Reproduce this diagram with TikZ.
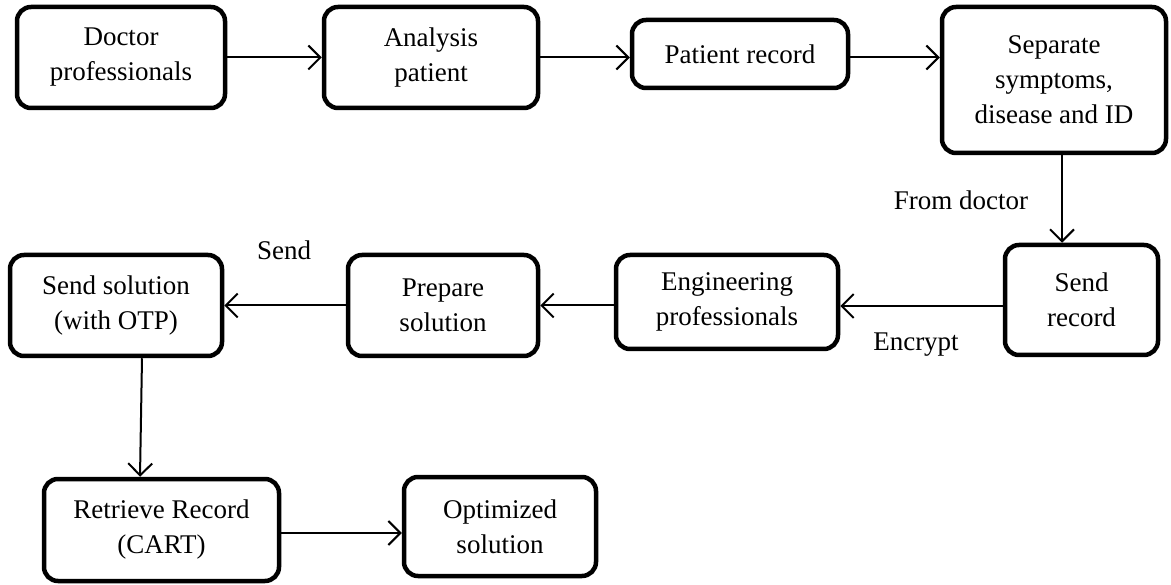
\documentclass[tikz,border=0pt]{standalone}
\usepackage{fontspec}
\setmainfont{Liberation Serif}
\usetikzlibrary{arrows.meta}
\begin{document}
\begin{tikzpicture}[x=1pt,y=-1pt,
 box/.style={draw, line width=4.5pt, rounded corners=14pt, align=center, inner sep=0pt, font=\fontsize{27}{35}\selectfont},
 lbl/.style={font=\fontsize{27}{34}\selectfont, inner sep=0pt},
 arr/.style={line width=2pt, -{Straight Barb[length=12pt,width=24pt,line width=2pt]}}]
\useasboundingbox (0,0) rectangle (1171,585);
\node[box, minimum width=208pt, minimum height=101pt] (b1) at (121,57.5) {Doctor\\professionals};
\node[box, minimum width=214pt, minimum height=101pt] (b2) at (431,57.5) {Analysis\\patient};
\node[box, minimum width=216pt, minimum height=68pt] (b3) at (740,54) {Patient record};
\node[box, minimum width=224pt, minimum height=146pt] (b4) at (1054,80) {Separate\\symptoms,\\disease and ID};
\node[box, minimum width=153pt, minimum height=110pt] (b5) at (1081.5,300) {Send\\record};
\node[box, minimum width=222pt, minimum height=94pt] (b6) at (727,302) {Engineering\\professionals};
\node[box, minimum width=190pt, minimum height=101pt] (b7) at (443,305.5) {Prepare\\solution};
\node[box, minimum width=212pt, minimum height=101pt] (b8) at (116,305.5) {Send solution\\(with OTP)};
\node[box, minimum width=235pt, minimum height=102pt] (b9) at (161.5,530) {Retrieve Record\\(CART)};
\node[box, minimum width=192pt, minimum height=99pt] (b10) at (500,526.5) {Optimized\\solution};
\node[lbl] (l1) at (961,200) {From doctor};
\node[lbl] (l2) at (916,345) {Encrypt};
\node[lbl] (l3) at (284,250) {Send};
\draw[arr] (b1.east) -- (b2.west);
\draw[arr] (b2.east) -- (b2.east -| b3.west);
\draw[arr] (b3.east |- b1.east) -- (b4.west |- b1.east);
\draw[arr] ([xshift=8pt]b4.south) -- ([xshift=8pt]b4.south |- b5.north);
\draw[arr] ([yshift=-6pt]b5.west) -- ([yshift=-6pt]b5.west -| b6.east);
\draw[arr] (b7.east -| b6.west) -- (b7.east);
\draw[arr] (b7.west) -- (b8.east);
\draw[arr] ([xshift=26pt]b8.south) -- ([xshift=-21.5pt]b9.north);
\draw[arr] ([yshift=-3pt]b9.east) -- ([yshift=-3pt]b9.east -| b10.west);
\end{tikzpicture}
\end{document}
